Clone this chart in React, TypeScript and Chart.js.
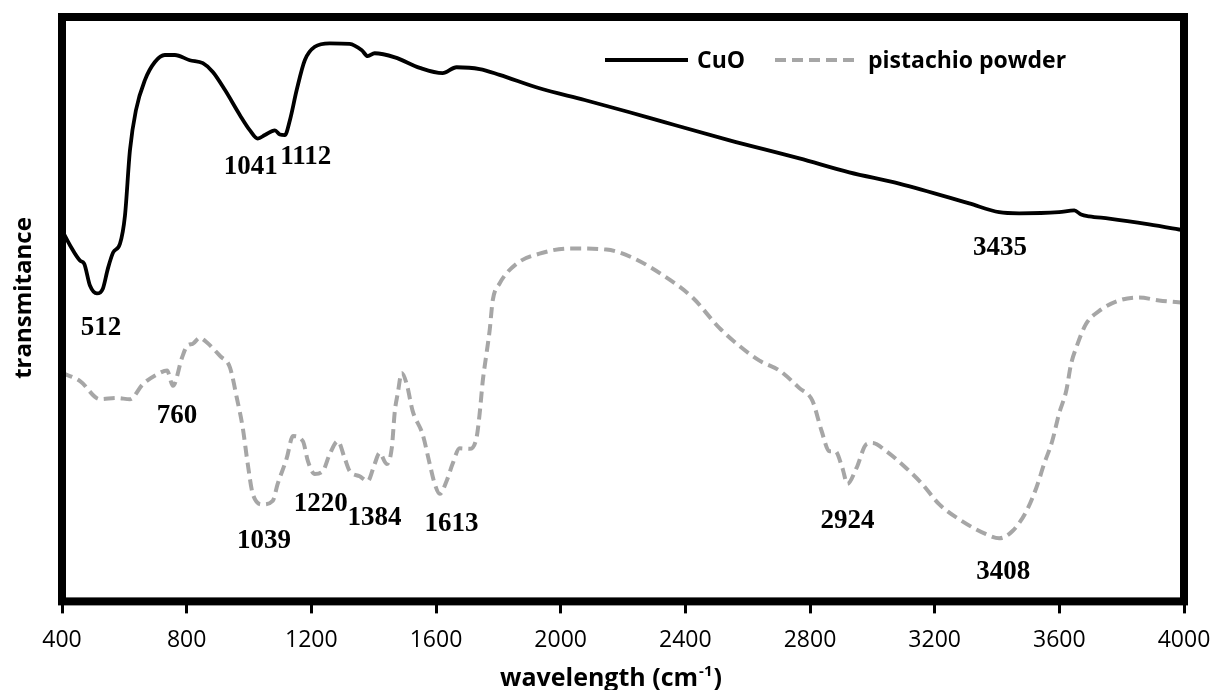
import React, { useEffect, useRef } from "react";
import { Chart, registerables } from "chart.js";

Chart.register(...registerables);

// ---- Data ----
const xTicks = [400, 800, 1200, 1600, 2000, 2400, 2800, 3200, 3600, 4000];

const cuoWave = [400, 426, 458, 471, 490, 512, 531, 547, 564, 586, 602, 618, 637, 666, 698, 730, 762, 810, 852, 884, 923, 971, 1003, 1028, 1051, 1083, 1099, 1115, 1131, 1153, 1179, 1211, 1259, 1323, 1362, 1381, 1403, 1468, 1548, 1621, 1666, 1740, 1804, 1932, 2077, 2221, 2333, 2542, 2766, 2926, 3086, 3311, 3407, 3471, 3599, 3648, 3670, 3696, 3760, 3888, 4000];
const cuoT = [63.5, 60.9, 58.3, 57.8, 54.0, 52.7, 53.5, 56.9, 59.7, 61.2, 66.0, 77.2, 84.0, 89.2, 92.3, 93.5, 93.5, 92.6, 92.1, 90.6, 87.5, 83.2, 80.6, 79.2, 79.8, 80.6, 79.9, 79.8, 82.3, 87.5, 92.6, 94.9, 95.5, 95.4, 94.3, 93.3, 93.8, 93.1, 91.3, 90.4, 91.4, 91.1, 90.1, 87.8, 85.8, 83.7, 82.0, 78.9, 75.8, 73.4, 71.5, 68.1, 66.6, 66.4, 66.6, 66.9, 66.2, 65.9, 65.5, 64.5, 63.5];

const pistWave = [400, 458, 522, 576, 618, 660, 714, 737, 756, 785, 801, 820, 842, 865, 907, 939, 961, 980, 996, 1012, 1044, 1076, 1092, 1121, 1141, 1173, 1189, 1211, 1237, 1259, 1285, 1307, 1323, 1355, 1381, 1403, 1419, 1442, 1458, 1468, 1477, 1490, 1506, 1525, 1557, 1580, 1596, 1612, 1634, 1653, 1676, 1708, 1730, 1740, 1750, 1762, 1772, 1782, 1804, 1859, 1932, 2029, 2147, 2231, 2340, 2423, 2509, 2574, 2638, 2702, 2766, 2808, 2837, 2862, 2881, 2904, 2920, 2949, 2981, 3000, 3045, 3109, 3160, 3215, 3289, 3365, 3407, 3449, 3494, 3526, 3551, 3577, 3599, 3622, 3638, 3654, 3686, 3728, 3792, 3856, 3920, 4000];
const pistT = [39.1, 37.7, 34.6, 34.8, 34.6, 37.2, 39.1, 39.5, 36.9, 41.7, 43.7, 44.1, 45.1, 44.3, 42.0, 40.0, 34.8, 29.7, 23.5, 18.4, 16.6, 17.2, 20.1, 24.5, 28.3, 27.4, 24.0, 21.8, 22.3, 25.2, 27.4, 24.5, 22.3, 21.4, 20.6, 23.5, 25.4, 23.5, 26.2, 32.6, 35.5, 39.1, 37.2, 32.6, 28.6, 23.5, 20.1, 18.4, 20.6, 23.5, 26.2, 26.1, 28.0, 32.1, 37.7, 42.4, 46.3, 51.5, 54.4, 57.8, 59.5, 60.4, 60.2, 58.8, 55.4, 52.0, 46.8, 43.7, 41.2, 39.5, 36.5, 34.3, 29.2, 25.7, 25.7, 22.8, 20.1, 22.8, 26.9, 27.1, 25.7, 22.8, 20.1, 16.6, 13.7, 11.5, 10.8, 12.0, 15.4, 19.4, 23.5, 27.4, 32.1, 36.0, 40.7, 43.4, 47.5, 49.7, 51.5, 52.0, 51.5, 51.1];

const peakLabels = ["512", "1041", "1112", "3435", "760", "1039", "1220", "1384", "1613", "2924", "3408"];
const peakLabelX = [525, 1006, 1182, 3410, 769, 1048, 1230, 1403, 1650, 2920, 3420];
const peakLabelY = [46.8, 74.3, 76.0, 60.5, 31.7, 10.3, 16.6, 14.2, 13.2, 13.7, 5.0];

const seriesNames = ["CuO", "pistachio powder"];
const xTitle = "wavelength (cm";
const xTitleSup = "-1";
const yTitle = "transmitance";

const GRAY = "#a6a6a6";

const decorPlugin = {
  id: "decor",
  afterDraw(chart: any) {
    const { ctx, chartArea } = chart;
    const xs = chart.scales.x;
    const ys = chart.scales.y;
    ctx.save();
    // frame
    ctx.strokeStyle = "#000";
    ctx.lineWidth = 8;
    ctx.setLineDash([]);
    ctx.strokeRect(chartArea.left, chartArea.top, chartArea.right - chartArea.left, chartArea.bottom - chartArea.top);

    // peak labels
    ctx.fillStyle = "#000";
    ctx.font = "bold 27px 'Liberation Serif', 'Times New Roman', serif";
    ctx.textAlign = "center";
    ctx.textBaseline = "middle";
    peakLabels.forEach((t, i) => {
      ctx.fillText(t, xs.getPixelForValue(peakLabelX[i]), ys.getPixelForValue(peakLabelY[i]));
    });

    // legend
    const ly = 60;
    ctx.lineWidth = 4;
    ctx.strokeStyle = "#000";
    ctx.beginPath();
    ctx.moveTo(605, ly);
    ctx.lineTo(688, ly);
    ctx.stroke();
    ctx.strokeStyle = GRAY;
    ctx.setLineDash([11, 6]);
    ctx.beginPath();
    ctx.moveTo(775, ly);
    ctx.lineTo(860, ly);
    ctx.stroke();
    ctx.setLineDash([]);
    ctx.font = "bold 23px 'Open Sans', sans-serif";
    ctx.textAlign = "left";
    ctx.fillStyle = "#000";
    ctx.fillText(seriesNames[0], 697, ly + 1);
    ctx.fillText(seriesNames[1], 868, ly + 1);

    // x title with superscript
    const tFont = "bold 25px 'Open Sans', sans-serif";
    const sFont = "bold 15px 'Open Sans', sans-serif";
    ctx.font = tFont;
    const w1 = ctx.measureText(xTitle).width;
    const w3 = ctx.measureText(")").width;
    ctx.font = sFont;
    const w2 = ctx.measureText(xTitleSup).width;
    const total = w1 + w2 + w3;
    const cx = 610;
    const x0 = cx - total / 2;
    const by = 686;
    ctx.textBaseline = "alphabetic";
    ctx.font = tFont;
    ctx.fillText(xTitle, x0, by);
    ctx.font = sFont;
    ctx.fillText(xTitleSup, x0 + w1 + 1, by - 10);
    ctx.font = tFont;
    ctx.fillText(")", x0 + w1 + w2 + 2, by);

    // y title
    ctx.translate(24, 298);
    ctx.rotate(-Math.PI / 2);
    ctx.textAlign = "center";
    ctx.textBaseline = "middle";
    ctx.font = "bold 24px 'Open Sans', sans-serif";
    ctx.fillText(yTitle, 0, 0);
    ctx.restore();
  },
};

export default function App() {
  const ref = useRef<HTMLCanvasElement | null>(null);
  useEffect(() => {
    if (!ref.current) return;
    const chart = new Chart(ref.current, {
      type: "line",
      data: {
        datasets: [
          {
            label: seriesNames[0],
            data: cuoWave.map((w, i) => ({ x: w, y: cuoT[i] })),
            borderColor: "#000",
            borderWidth: 3.8,
            pointRadius: 0,
            cubicInterpolationMode: "monotone",
            fill: false,
          },
          {
            label: seriesNames[1],
            data: pistWave.map((w, i) => ({ x: w, y: pistT[i] })),
            borderColor: GRAY,
            borderWidth: 4,
            borderDash: [11, 6],
            pointRadius: 0,
            cubicInterpolationMode: "monotone",
            fill: false,
          },
        ],
      },
      options: {
        animation: false,
        responsive: true,
        maintainAspectRatio: false,
        layout: { padding: { left: 62, right: 31, top: 17, bottom: 23 } },
        plugins: { legend: { display: false }, tooltip: { enabled: false } },
        scales: {
          x: {
            type: "linear",
            min: 400,
            max: 4000,
            afterBuildTicks: (axis: any) => {
              axis.ticks = xTicks.map((v) => ({ value: v }));
            },
            afterFit: (scale: any) => {
              scale.paddingLeft = 0;
              scale.paddingRight = 0;
            },
            grid: {
              display: true,
              drawOnChartArea: false,
              drawTicks: true,
              tickLength: 12,
              tickWidth: 3,
              tickColor: "#000",
            },
            border: { display: false },
            ticks: {
              color: "#000",
              font: { family: "'Open Sans', sans-serif", size: 23 },
              padding: 13,
              maxRotation: 0,
              autoSkip: false,
              callback: (v: any) => String(v),
            },
          },
          y: {
            display: false,
            min: 0,
            max: 100,
          },
        },
      },
      plugins: [decorPlugin],
    });
    return () => chart.destroy();
  }, []);
  return (
    <div style={{ position: "fixed", left: 0, top: 0, width: 1215, height: 690, background: "#fff" }}>
      <canvas ref={ref} />
    </div>
  );
}
